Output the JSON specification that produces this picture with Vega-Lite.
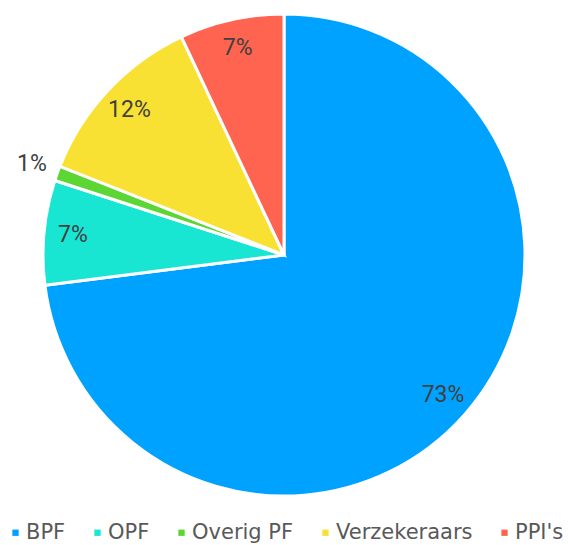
{
  "$schema": "https://vega.github.io/schema/vega-lite/v6.json",
  "width": 568,
  "height": 510,
  "padding": {"top": 0, "left": 0, "right": 0, "bottom": 35},
  "autosize": {"type": "none"},
  "background": "white",
  "data": {
    "values": [
      {"category": "BPF", "share": 0.73, "rank": 1},
      {"category": "OPF", "share": 0.07, "rank": 2},
      {"category": "Overig PF", "share": 0.01, "rank": 3},
      {"category": "Verzekeraars", "share": 0.12, "rank": 4},
      {"category": "PPI's", "share": 0.07, "rank": 5}
    ]
  },
  "encoding": {
    "theta": {"field": "share", "type": "quantitative", "stack": true},
    "order": {"field": "rank", "type": "quantitative"}
  },
  "layer": [
    {
      "mark": {"type": "arc", "outerRadius": 241, "stroke": "white", "strokeWidth": 3},
      "encoding": {
        "color": {
          "field": "category",
          "type": "nominal",
          "sort": null,
          "scale": {
            "domain": ["BPF", "OPF", "Overig PF", "Verzekeraars", "PPI's"],
            "range": ["#00A2FF", "#19E6D2", "#5CD633", "#F9E133", "#FF6450"]
          },
          "legend": {
            "title": null,
            "orient": "bottom",
            "direction": "horizontal",
            "symbolType": "square",
            "symbolSize": 40,
            "symbolStrokeWidth": 0,
            "labelFont": "DejaVu Sans",
            "labelFontSize": 21,
            "labelColor": "#595959",
            "labelOffset": 0,
            "columnPadding": 21,
            "offset": 12,
            "padding": 0
          }
        }
      }
    },
    {
      "mark": {"type": "text", "radius": 212, "font": "Roboto", "fontSize": 23, "color": "#404040", "align": "center", "baseline": "middle"},
      "encoding": {
        "text": {"condition": {"test": "datum.share >= 0.02", "field": "share", "type": "quantitative", "format": ".0%"}, "value": ""}
      }
    },
    {
      "mark": {"type": "text", "radius": 268, "font": "Roboto", "fontSize": 23, "color": "#404040", "align": "center", "baseline": "middle"},
      "encoding": {
        "text": {"condition": {"test": "datum.share < 0.02", "field": "share", "type": "quantitative", "format": ".0%"}, "value": ""}
      }
    }
  ],
  "config": {
    "view": {"stroke": null},
    "legend": {"layout": {"bottom": {"anchor": "middle"}}}
  }
}
